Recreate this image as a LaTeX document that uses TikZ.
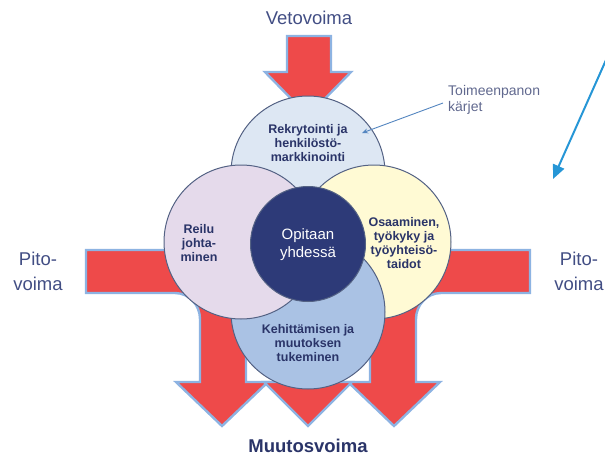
\documentclass[tikz,border=0pt]{standalone}
\usepackage{fontspec}
\setmainfont{Liberation Sans}
\usetikzlibrary{arrows.meta}
\definecolor{arrowred}{RGB}{238,74,74}
\definecolor{arrowedge}{RGB}{141,179,226}
\definecolor{topfill}{RGB}{221,231,243}
\definecolor{leftfill}{RGB}{229,218,235}
\definecolor{rightfill}{RGB}{255,250,212}
\definecolor{bottomfill}{RGB}{170,194,228}
\definecolor{centerfill}{RGB}{45,58,120}
\definecolor{ringline}{RGB}{84,98,132}
\definecolor{textnavy}{RGB}{42,52,104}
\definecolor{labelnavy}{RGB}{66,78,132}
\definecolor{notegray}{RGB}{96,104,142}
\definecolor{noteline}{RGB}{84,134,192}
\definecolor{callblue}{RGB}{38,150,214}
\begin{document}
\begin{tikzpicture}[x=1pt,y=-1pt,
  bigarrow/.style={fill=arrowred,draw=arrowedge,line width=2.4pt,line join=miter},
  ring/.style={circle,draw=ringline,line width=1pt,inner sep=0pt,minimum size=154pt},
  ringtext/.style={align=center,text=textnavy,font=\bfseries\fontsize{12.5}{14.2}\selectfont,inner sep=0pt},
  forcelabel/.style={align=center,text=labelnavy,font=\fontsize{18.5}{25}\selectfont,inner sep=0pt}]
\useasboundingbox (0,0) rectangle (605,458);
% force arrows
\path[bigarrow] (287,36) -- (331,36) -- (331,72) -- (351,72) -- (308,116) -- (265,72) -- (287,72) -- cycle;
\path[bigarrow] (86,250) -- (246,250) -- (246,382) -- (268,382) -- (222,426) -- (176,382) -- (200,382) -- (200,319) .. controls (200,305) and (189,293) .. (175,293) -- (86,293) -- cycle;
\path[bigarrow] (530,250) -- (370,250) -- (370,382) -- (348,382) -- (394,426) -- (440,382) -- (416,382) -- (416,319) .. controls (416,305) and (427,293) .. (441,293) -- (530,293) -- cycle;
\path[bigarrow] (286,300) -- (330,300) -- (330,382) -- (352,382) -- (308,426) -- (264,382) -- (286,382) -- cycle;
% circles
\node[ring,fill=topfill] (ctop) at (308,173) {};
\node[ring,fill=rightfill] (cright) at (374,242) {};
\node[ring,fill=bottomfill] (cbottom) at (308,312) {};
\node[ring,fill=leftfill] (cleft) at (241,242) {};
\node[circle,draw=ringline,line width=1pt,fill=centerfill,inner sep=0pt,minimum size=115pt] (ccenter) at (308,244) {};
% texts
\node[ringtext] (ttop) at (308,143) {Rekrytointi ja\\henkilöstö-\\markkinointi};
\node[ringtext] (tleft) at (199,243) {Reilu\\johta-\\minen};
\node[ringtext] (tright) at (404,243) {Osaaminen,\\työkyky ja\\työyhteisö-\\taidot};
\node[ringtext] (tbottom) at (308,343) {Kehittämisen ja\\muutoksen\\tukeminen};
\node[align=center,text=white,font=\fontsize{15}{18}\selectfont,inner sep=0pt] (tcenter) at (308,245) {Opitaan\\yhdessä};
\node[forcelabel] (veto) at (309,18) {Vetovoima};
\node[forcelabel] (pitol) at (38,271) {Pito-\\voima};
\node[forcelabel] (pitor) at (579,271) {Pito-\\voima};
\node[align=center,text=textnavy,font=\bfseries\fontsize{18.5}{22}\selectfont,inner sep=0pt] (muutos) at (308,446) {Muutosvoima};
% annotation
\node[align=left,text=notegray,font=\fontsize{14}{16}\selectfont,inner sep=0pt,anchor=west] (note) at (448,100) {Toimeenpanon\\kärjet};
\coordinate (notetip) at (362,133);
\draw[noteline,line width=0.9pt,-{Stealth[length=6pt,width=5pt]}] ([xshift=-5pt,yshift=-3pt]note.west) -- (notetip);
\coordinate (callstart) at (606,60);
\coordinate (calltip) at (553,179);
\draw[callblue,line width=2pt,-{Triangle[length=14pt,width=12pt]}] (callstart) -- (calltip);
\end{tikzpicture}
\end{document}
